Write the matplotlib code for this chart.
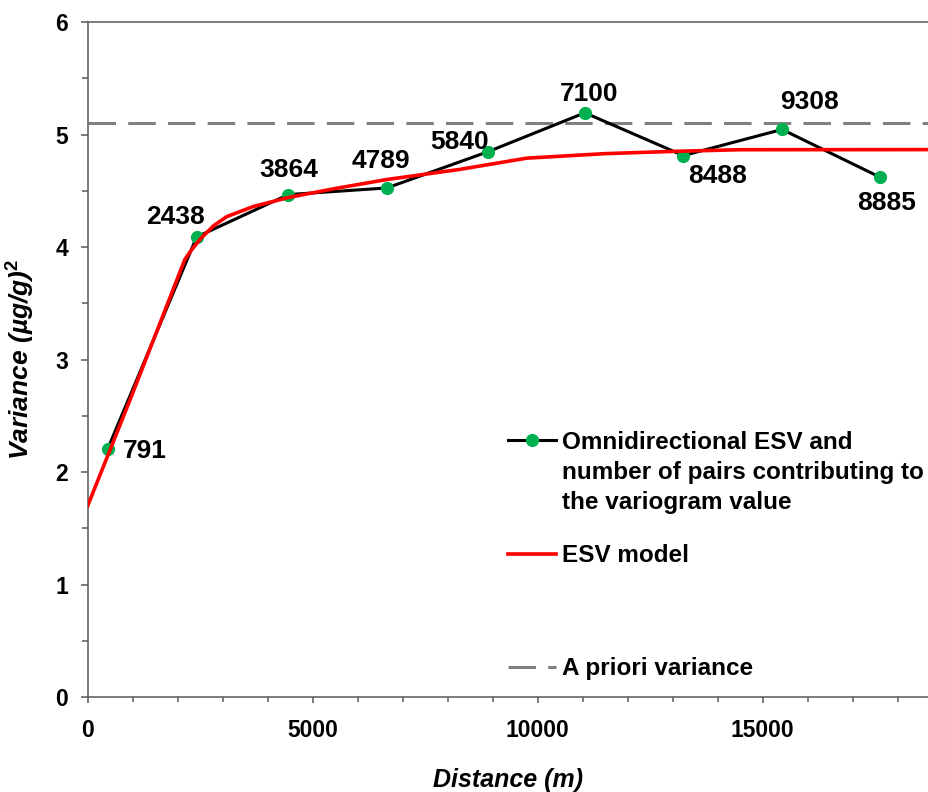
import matplotlib
matplotlib.use("Agg")
import matplotlib.pyplot as plt
from matplotlib.lines import Line2D
from matplotlib.ticker import MultipleLocator

plt.rcParams['font.family'] = ['Liberation Sans', 'DejaVu Sans']
plt.rcParams['mathtext.fontset'] = 'custom'
plt.rcParams['mathtext.bf'] = 'Liberation Sans:bold'
plt.rcParams['mathtext.rm'] = 'Liberation Sans'

# experimental semivariogram (distance in m, variance) and number of pairs
distance = [445, 2423, 4460, 6650, 8890, 11050, 13240, 15435, 17615]
variance = [2.206, 4.09, 4.466, 4.525, 4.846, 5.193, 4.813, 5.045, 4.62]
pairs = ['791', '2438', '3864', '4789', '5840', '7100', '8488', '9308', '8885']

# fitted ESV model
model_distance = [0, 940, 2160, 2300, 2500, 2800, 3090, 3680, 4460, 5500, 6650,
                  8270, 9760, 11500, 13000, 14500, 18700]
model_variance = [1.70, 2.64, 3.89, 3.97, 4.07, 4.19, 4.27, 4.36, 4.44, 4.52, 4.60,
                  4.69, 4.79, 4.83, 4.85, 4.865, 4.866]

a_priori = 5.10

# label offsets in pixels (dx, dy) relative to the points
label_offsets = [(37, -2), (-21, 20), (0, 25), (-6, 27), (-28, 10),
                 (4, 19), (34, -20), (27, 27), (6, -26)]

fig = plt.figure(figsize=(9.29, 7.92), dpi=100)
ax = fig.add_axes([0.0944, 0.1199, 0.9056, 0.8523])

green = '#00B050'
ax.axhline(a_priori, color='#808080', lw=2.2, dashes=(9, 4), zorder=1)
ax.plot(model_distance, model_variance, color='#FF0000', lw=2.6, zorder=3)
ax.plot(distance, variance, color='black', lw=2.2, marker='o', ms=8.5,
        mfc=green, mec=green, zorder=2)

for x, y, lab, (dx, dy) in zip(distance, variance, pairs, label_offsets):
    ax.annotate(lab, (x, y), xytext=(dx * 0.72, dy * 0.72), textcoords='offset points',
                ha='center', va='center', fontsize=19, fontweight='bold')

ax.set_xlim(0, 18700)
ax.set_ylim(0, 6)
ax.xaxis.set_major_locator(MultipleLocator(5000))
ax.xaxis.set_minor_locator(MultipleLocator(1000))
ax.yaxis.set_major_locator(MultipleLocator(1))
ax.yaxis.set_minor_locator(MultipleLocator(0.5))

spine_col = '#595959'
for s in ['left', 'bottom', 'top']:
    ax.spines[s].set_color(spine_col)
    ax.spines[s].set_linewidth(1.1)
ax.spines['right'].set_visible(False)
ax.tick_params(which='both', direction='out', color=spine_col, width=1.1,
               top=False, right=False)
ax.tick_params(axis='y', which='major', length=5, pad=9, labelsize=16.5)
ax.tick_params(axis='y', which='minor', length=4.5)
ax.tick_params(axis='x', which='major', length=4, pad=12, labelsize=16.5)
ax.tick_params(axis='x', which='minor', length=3.5)
for t in ax.get_xticklabels() + ax.get_yticklabels():
    t.set_fontweight('bold')

ax.set_xlabel('Distance (m)', fontsize=18, fontweight='bold', style='italic')
ax.set_ylabel(r'Variance (µg/g)$^{\mathbf{2}}$', fontsize=19, fontweight='bold',
              style='italic')
ax.xaxis.set_label_coords(0.5, -0.105)
ax.yaxis.set_label_coords(-0.0615, 0.5)

# legend, built as three blocks to mimic the original spacing
leg_kw = dict(frameon=False, prop={'size': 17.5, 'weight': 'bold'}, handlelength=2.0,
              handletextpad=0.25, borderpad=0, borderaxespad=0, loc='upper left')
h1 = Line2D([], [], color='black', lw=2.2, marker='o', ms=8.5, mfc=green, mec=green)
blank = Line2D([], [], color='none')
leg1 = ax.legend([h1, blank, blank],
                 ['Omnidirectional ESV and', 'number of pairs contributing to',
                  'the variogram value'],
                 bbox_to_anchor=(0.499, 0.3945), labelspacing=0.3, **leg_kw)
ax.add_artist(leg1)
h2 = Line2D([], [], color='#FF0000', lw=2.6)
leg2 = ax.legend([h2], ['ESV model'], bbox_to_anchor=(0.499, 0.2266), **leg_kw)
ax.add_artist(leg2)
h3 = Line2D([], [], color='#808080', lw=2.2, dashes=(9, 4))
ax.legend([h3], ['A priori variance'], bbox_to_anchor=(0.499, 0.0592), **leg_kw)

fig.savefig('out.png', dpi=100)
